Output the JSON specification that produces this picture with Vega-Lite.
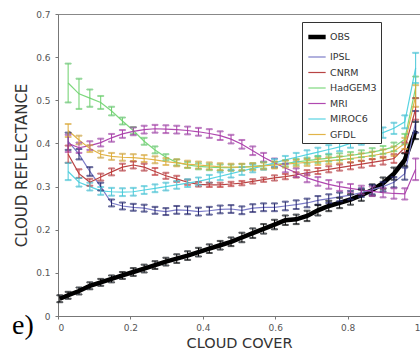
{
  "$schema": "https://vega.github.io/schema/vega-lite/v6.json",
  "autosize": "none",
  "width": 362,
  "height": 302,
  "padding": {"left": 58, "top": 14, "right": 0, "bottom": 44},
  "background": "white",
  "config": {
    "view": {"stroke": "#888888", "strokeWidth": 1},
    "font": "DejaVu Sans"
  },
  "title": {"text": "e)", "orient": "bottom", "anchor": "start", "frame": "group", "font": "Liberation Serif", "fontSize": 28, "fontWeight": "normal", "color": "#000000", "dx": -46, "offset": -38},
  "data": {"values": [
    {"m":"OBS","x":0.005,"y":0.040,"e":0.008},
    {"m":"OBS","x":0.028,"y":0.048,"e":0.008},
    {"m":"OBS","x":0.058,"y":0.058,"e":0.008},
    {"m":"OBS","x":0.088,"y":0.070,"e":0.008},
    {"m":"OBS","x":0.118,"y":0.078,"e":0.008},
    {"m":"OBS","x":0.148,"y":0.086,"e":0.008},
    {"m":"OBS","x":0.178,"y":0.094,"e":0.008},
    {"m":"OBS","x":0.208,"y":0.102,"e":0.009},
    {"m":"OBS","x":0.238,"y":0.110,"e":0.009},
    {"m":"OBS","x":0.268,"y":0.118,"e":0.009},
    {"m":"OBS","x":0.298,"y":0.126,"e":0.009},
    {"m":"OBS","x":0.328,"y":0.133,"e":0.010},
    {"m":"OBS","x":0.358,"y":0.140,"e":0.010},
    {"m":"OBS","x":0.388,"y":0.148,"e":0.010},
    {"m":"OBS","x":0.418,"y":0.156,"e":0.010},
    {"m":"OBS","x":0.448,"y":0.164,"e":0.010},
    {"m":"OBS","x":0.478,"y":0.172,"e":0.010},
    {"m":"OBS","x":0.508,"y":0.182,"e":0.011},
    {"m":"OBS","x":0.538,"y":0.192,"e":0.011},
    {"m":"OBS","x":0.568,"y":0.202,"e":0.011},
    {"m":"OBS","x":0.598,"y":0.212,"e":0.011},
    {"m":"OBS","x":0.628,"y":0.222,"e":0.011},
    {"m":"OBS","x":0.658,"y":0.224,"e":0.011},
    {"m":"OBS","x":0.688,"y":0.232,"e":0.012},
    {"m":"OBS","x":0.718,"y":0.245,"e":0.012},
    {"m":"OBS","x":0.748,"y":0.255,"e":0.012},
    {"m":"OBS","x":0.778,"y":0.262,"e":0.012},
    {"m":"OBS","x":0.808,"y":0.270,"e":0.012},
    {"m":"OBS","x":0.838,"y":0.280,"e":0.013},
    {"m":"OBS","x":0.868,"y":0.292,"e":0.013},
    {"m":"OBS","x":0.898,"y":0.308,"e":0.013},
    {"m":"OBS","x":0.928,"y":0.330,"e":0.014},
    {"m":"OBS","x":0.958,"y":0.362,"e":0.015},
    {"m":"OBS","x":0.988,"y":0.430,"e":0.020},

    {"m":"IPSL","x":0.028,"y":0.405,"e":0.02},
    {"m":"IPSL","x":0.058,"y":0.375,"e":0.012},
    {"m":"IPSL","x":0.088,"y":0.335,"e":0.010},
    {"m":"IPSL","x":0.118,"y":0.300,"e":0.009},
    {"m":"IPSL","x":0.148,"y":0.262,"e":0.008},
    {"m":"IPSL","x":0.178,"y":0.255,"e":0.008},
    {"m":"IPSL","x":0.208,"y":0.252,"e":0.008},
    {"m":"IPSL","x":0.238,"y":0.250,"e":0.008},
    {"m":"IPSL","x":0.268,"y":0.245,"e":0.008},
    {"m":"IPSL","x":0.298,"y":0.242,"e":0.008},
    {"m":"IPSL","x":0.328,"y":0.246,"e":0.009},
    {"m":"IPSL","x":0.358,"y":0.245,"e":0.009},
    {"m":"IPSL","x":0.388,"y":0.242,"e":0.009},
    {"m":"IPSL","x":0.418,"y":0.244,"e":0.009},
    {"m":"IPSL","x":0.448,"y":0.247,"e":0.009},
    {"m":"IPSL","x":0.478,"y":0.248,"e":0.009},
    {"m":"IPSL","x":0.508,"y":0.245,"e":0.009},
    {"m":"IPSL","x":0.538,"y":0.250,"e":0.009},
    {"m":"IPSL","x":0.568,"y":0.252,"e":0.009},
    {"m":"IPSL","x":0.598,"y":0.252,"e":0.009},
    {"m":"IPSL","x":0.628,"y":0.255,"e":0.010},
    {"m":"IPSL","x":0.658,"y":0.258,"e":0.010},
    {"m":"IPSL","x":0.688,"y":0.262,"e":0.010},
    {"m":"IPSL","x":0.718,"y":0.268,"e":0.010},
    {"m":"IPSL","x":0.748,"y":0.272,"e":0.010},
    {"m":"IPSL","x":0.778,"y":0.276,"e":0.010},
    {"m":"IPSL","x":0.808,"y":0.280,"e":0.010},
    {"m":"IPSL","x":0.838,"y":0.286,"e":0.010},
    {"m":"IPSL","x":0.868,"y":0.293,"e":0.011},
    {"m":"IPSL","x":0.898,"y":0.300,"e":0.011},
    {"m":"IPSL","x":0.928,"y":0.310,"e":0.012},
    {"m":"IPSL","x":0.958,"y":0.330,"e":0.014},
    {"m":"IPSL","x":0.988,"y":0.450,"e":0.025},

    {"m":"CNRM","x":0.028,"y":0.375,"e":0.02},
    {"m":"CNRM","x":0.058,"y":0.330,"e":0.010},
    {"m":"CNRM","x":0.088,"y":0.310,"e":0.008},
    {"m":"CNRM","x":0.118,"y":0.322,"e":0.008},
    {"m":"CNRM","x":0.148,"y":0.334,"e":0.008},
    {"m":"CNRM","x":0.178,"y":0.345,"e":0.008},
    {"m":"CNRM","x":0.208,"y":0.350,"e":0.008},
    {"m":"CNRM","x":0.238,"y":0.345,"e":0.008},
    {"m":"CNRM","x":0.268,"y":0.335,"e":0.008},
    {"m":"CNRM","x":0.298,"y":0.325,"e":0.007},
    {"m":"CNRM","x":0.328,"y":0.318,"e":0.007},
    {"m":"CNRM","x":0.358,"y":0.310,"e":0.006},
    {"m":"CNRM","x":0.388,"y":0.305,"e":0.005},
    {"m":"CNRM","x":0.418,"y":0.304,"e":0.005},
    {"m":"CNRM","x":0.448,"y":0.304,"e":0.005},
    {"m":"CNRM","x":0.478,"y":0.306,"e":0.005},
    {"m":"CNRM","x":0.508,"y":0.308,"e":0.005},
    {"m":"CNRM","x":0.538,"y":0.312,"e":0.005},
    {"m":"CNRM","x":0.568,"y":0.316,"e":0.005},
    {"m":"CNRM","x":0.598,"y":0.320,"e":0.006},
    {"m":"CNRM","x":0.628,"y":0.323,"e":0.006},
    {"m":"CNRM","x":0.658,"y":0.327,"e":0.006},
    {"m":"CNRM","x":0.688,"y":0.332,"e":0.006},
    {"m":"CNRM","x":0.718,"y":0.336,"e":0.007},
    {"m":"CNRM","x":0.748,"y":0.340,"e":0.007},
    {"m":"CNRM","x":0.778,"y":0.344,"e":0.007},
    {"m":"CNRM","x":0.808,"y":0.348,"e":0.008},
    {"m":"CNRM","x":0.838,"y":0.352,"e":0.008},
    {"m":"CNRM","x":0.868,"y":0.356,"e":0.008},
    {"m":"CNRM","x":0.898,"y":0.360,"e":0.009},
    {"m":"CNRM","x":0.928,"y":0.365,"e":0.010},
    {"m":"CNRM","x":0.958,"y":0.390,"e":0.012},
    {"m":"CNRM","x":0.988,"y":0.480,"e":0.025},

    {"m":"HadGEM3","x":0.028,"y":0.540,"e":0.045},
    {"m":"HadGEM3","x":0.058,"y":0.515,"e":0.035},
    {"m":"HadGEM3","x":0.088,"y":0.505,"e":0.020},
    {"m":"HadGEM3","x":0.118,"y":0.495,"e":0.015},
    {"m":"HadGEM3","x":0.148,"y":0.475,"e":0.010},
    {"m":"HadGEM3","x":0.178,"y":0.452,"e":0.008},
    {"m":"HadGEM3","x":0.208,"y":0.430,"e":0.008},
    {"m":"HadGEM3","x":0.238,"y":0.405,"e":0.008},
    {"m":"HadGEM3","x":0.268,"y":0.385,"e":0.008},
    {"m":"HadGEM3","x":0.298,"y":0.368,"e":0.007},
    {"m":"HadGEM3","x":0.328,"y":0.356,"e":0.007},
    {"m":"HadGEM3","x":0.358,"y":0.350,"e":0.007},
    {"m":"HadGEM3","x":0.388,"y":0.347,"e":0.007},
    {"m":"HadGEM3","x":0.418,"y":0.345,"e":0.007},
    {"m":"HadGEM3","x":0.448,"y":0.344,"e":0.007},
    {"m":"HadGEM3","x":0.478,"y":0.344,"e":0.007},
    {"m":"HadGEM3","x":0.508,"y":0.345,"e":0.007},
    {"m":"HadGEM3","x":0.538,"y":0.347,"e":0.007},
    {"m":"HadGEM3","x":0.568,"y":0.349,"e":0.007},
    {"m":"HadGEM3","x":0.598,"y":0.351,"e":0.007},
    {"m":"HadGEM3","x":0.628,"y":0.354,"e":0.007},
    {"m":"HadGEM3","x":0.658,"y":0.357,"e":0.007},
    {"m":"HadGEM3","x":0.688,"y":0.360,"e":0.007},
    {"m":"HadGEM3","x":0.718,"y":0.363,"e":0.008},
    {"m":"HadGEM3","x":0.748,"y":0.366,"e":0.008},
    {"m":"HadGEM3","x":0.778,"y":0.369,"e":0.008},
    {"m":"HadGEM3","x":0.808,"y":0.372,"e":0.008},
    {"m":"HadGEM3","x":0.838,"y":0.376,"e":0.008},
    {"m":"HadGEM3","x":0.868,"y":0.380,"e":0.009},
    {"m":"HadGEM3","x":0.898,"y":0.385,"e":0.009},
    {"m":"HadGEM3","x":0.928,"y":0.392,"e":0.010},
    {"m":"HadGEM3","x":0.958,"y":0.410,"e":0.012},
    {"m":"HadGEM3","x":0.988,"y":0.530,"e":0.025},

    {"m":"MRI","x":0.028,"y":0.400,"e":0.02},
    {"m":"MRI","x":0.058,"y":0.390,"e":0.012},
    {"m":"MRI","x":0.088,"y":0.395,"e":0.010},
    {"m":"MRI","x":0.118,"y":0.402,"e":0.009},
    {"m":"MRI","x":0.148,"y":0.413,"e":0.009},
    {"m":"MRI","x":0.178,"y":0.422,"e":0.009},
    {"m":"MRI","x":0.208,"y":0.428,"e":0.009},
    {"m":"MRI","x":0.238,"y":0.432,"e":0.009},
    {"m":"MRI","x":0.268,"y":0.434,"e":0.009},
    {"m":"MRI","x":0.298,"y":0.433,"e":0.009},
    {"m":"MRI","x":0.328,"y":0.432,"e":0.009},
    {"m":"MRI","x":0.358,"y":0.430,"e":0.009},
    {"m":"MRI","x":0.388,"y":0.427,"e":0.009},
    {"m":"MRI","x":0.418,"y":0.423,"e":0.010},
    {"m":"MRI","x":0.448,"y":0.418,"e":0.010},
    {"m":"MRI","x":0.478,"y":0.410,"e":0.010},
    {"m":"MRI","x":0.508,"y":0.398,"e":0.010},
    {"m":"MRI","x":0.538,"y":0.383,"e":0.010},
    {"m":"MRI","x":0.568,"y":0.368,"e":0.010},
    {"m":"MRI","x":0.598,"y":0.355,"e":0.010},
    {"m":"MRI","x":0.628,"y":0.343,"e":0.010},
    {"m":"MRI","x":0.658,"y":0.332,"e":0.010},
    {"m":"MRI","x":0.688,"y":0.320,"e":0.010},
    {"m":"MRI","x":0.718,"y":0.312,"e":0.010},
    {"m":"MRI","x":0.748,"y":0.305,"e":0.010},
    {"m":"MRI","x":0.778,"y":0.300,"e":0.010},
    {"m":"MRI","x":0.808,"y":0.296,"e":0.010},
    {"m":"MRI","x":0.838,"y":0.292,"e":0.010},
    {"m":"MRI","x":0.868,"y":0.289,"e":0.011},
    {"m":"MRI","x":0.898,"y":0.286,"e":0.011},
    {"m":"MRI","x":0.928,"y":0.284,"e":0.012},
    {"m":"MRI","x":0.958,"y":0.283,"e":0.013},
    {"m":"MRI","x":0.988,"y":0.340,"e":0.025},

    {"m":"MIROC6","x":0.028,"y":0.335,"e":0.02},
    {"m":"MIROC6","x":0.058,"y":0.310,"e":0.010},
    {"m":"MIROC6","x":0.088,"y":0.300,"e":0.009},
    {"m":"MIROC6","x":0.118,"y":0.290,"e":0.009},
    {"m":"MIROC6","x":0.148,"y":0.288,"e":0.009},
    {"m":"MIROC6","x":0.178,"y":0.287,"e":0.009},
    {"m":"MIROC6","x":0.208,"y":0.288,"e":0.009},
    {"m":"MIROC6","x":0.238,"y":0.292,"e":0.009},
    {"m":"MIROC6","x":0.268,"y":0.296,"e":0.009},
    {"m":"MIROC6","x":0.298,"y":0.300,"e":0.009},
    {"m":"MIROC6","x":0.328,"y":0.304,"e":0.009},
    {"m":"MIROC6","x":0.358,"y":0.308,"e":0.009},
    {"m":"MIROC6","x":0.388,"y":0.312,"e":0.009},
    {"m":"MIROC6","x":0.418,"y":0.318,"e":0.009},
    {"m":"MIROC6","x":0.448,"y":0.324,"e":0.009},
    {"m":"MIROC6","x":0.478,"y":0.330,"e":0.009},
    {"m":"MIROC6","x":0.508,"y":0.336,"e":0.009},
    {"m":"MIROC6","x":0.538,"y":0.342,"e":0.009},
    {"m":"MIROC6","x":0.568,"y":0.348,"e":0.009},
    {"m":"MIROC6","x":0.598,"y":0.355,"e":0.009},
    {"m":"MIROC6","x":0.628,"y":0.362,"e":0.009},
    {"m":"MIROC6","x":0.658,"y":0.368,"e":0.010},
    {"m":"MIROC6","x":0.688,"y":0.374,"e":0.010},
    {"m":"MIROC6","x":0.718,"y":0.380,"e":0.010},
    {"m":"MIROC6","x":0.748,"y":0.386,"e":0.010},
    {"m":"MIROC6","x":0.778,"y":0.392,"e":0.010},
    {"m":"MIROC6","x":0.808,"y":0.400,"e":0.010},
    {"m":"MIROC6","x":0.838,"y":0.408,"e":0.011},
    {"m":"MIROC6","x":0.868,"y":0.416,"e":0.011},
    {"m":"MIROC6","x":0.898,"y":0.425,"e":0.012},
    {"m":"MIROC6","x":0.928,"y":0.435,"e":0.013},
    {"m":"MIROC6","x":0.958,"y":0.450,"e":0.015},
    {"m":"MIROC6","x":0.988,"y":0.575,"e":0.035},

    {"m":"GFDL","x":0.028,"y":0.430,"e":0.015},
    {"m":"GFDL","x":0.058,"y":0.408,"e":0.010},
    {"m":"GFDL","x":0.088,"y":0.388,"e":0.008},
    {"m":"GFDL","x":0.118,"y":0.375,"e":0.008},
    {"m":"GFDL","x":0.148,"y":0.370,"e":0.008},
    {"m":"GFDL","x":0.178,"y":0.368,"e":0.008},
    {"m":"GFDL","x":0.208,"y":0.367,"e":0.008},
    {"m":"GFDL","x":0.238,"y":0.365,"e":0.008},
    {"m":"GFDL","x":0.268,"y":0.362,"e":0.008},
    {"m":"GFDL","x":0.298,"y":0.358,"e":0.008},
    {"m":"GFDL","x":0.328,"y":0.355,"e":0.008},
    {"m":"GFDL","x":0.358,"y":0.352,"e":0.008},
    {"m":"GFDL","x":0.388,"y":0.350,"e":0.008},
    {"m":"GFDL","x":0.418,"y":0.348,"e":0.008},
    {"m":"GFDL","x":0.448,"y":0.346,"e":0.008},
    {"m":"GFDL","x":0.478,"y":0.345,"e":0.008},
    {"m":"GFDL","x":0.508,"y":0.345,"e":0.008},
    {"m":"GFDL","x":0.538,"y":0.346,"e":0.008},
    {"m":"GFDL","x":0.568,"y":0.348,"e":0.008},
    {"m":"GFDL","x":0.598,"y":0.350,"e":0.008},
    {"m":"GFDL","x":0.628,"y":0.352,"e":0.008},
    {"m":"GFDL","x":0.658,"y":0.354,"e":0.008},
    {"m":"GFDL","x":0.688,"y":0.356,"e":0.008},
    {"m":"GFDL","x":0.718,"y":0.358,"e":0.008},
    {"m":"GFDL","x":0.748,"y":0.360,"e":0.008},
    {"m":"GFDL","x":0.778,"y":0.362,"e":0.008},
    {"m":"GFDL","x":0.808,"y":0.365,"e":0.009},
    {"m":"GFDL","x":0.838,"y":0.368,"e":0.009},
    {"m":"GFDL","x":0.868,"y":0.372,"e":0.009},
    {"m":"GFDL","x":0.898,"y":0.376,"e":0.010},
    {"m":"GFDL","x":0.928,"y":0.382,"e":0.011},
    {"m":"GFDL","x":0.958,"y":0.400,"e":0.013},
    {"m":"GFDL","x":0.988,"y":0.510,"e":0.025}
  ]},
  "layer": [
    {
      "mark": {"type": "line", "clip": true},
      "encoding": {
        "x": {"field": "x", "type": "quantitative", "title": "CLOUD COVER",
          "scale": {"domain": [0, 1]},
          "axis": {"values": [0,0.2,0.4,0.6,0.8,1], "format": "~g", "grid": false, "domainColor": "#777777", "tickColor": "#777777", "tickSize": 3, "labelColor": "#555555", "labelFontSize": 9, "labelPadding": 4, "titleFontSize": 14.5, "titleFontWeight": "normal", "titleColor": "#333333", "titlePadding": 4}},
        "y": {"field": "y", "type": "quantitative", "title": "CLOUD REFLECTANCE",
          "scale": {"domain": [0, 0.7]},
          "axis": {"values": [0,0.1,0.2,0.3,0.4,0.5,0.6,0.7], "format": "~g", "grid": false, "domainColor": "#777777", "tickColor": "#777777", "tickSize": 3, "labelColor": "#555555", "labelFontSize": 9, "labelPadding": 5, "titleFontSize": 15, "titleFontWeight": "normal", "titleColor": "#333333", "titlePadding": 6}},
        "color": {"field": "m", "type": "nominal", "title": null,
          "scale": {"domain": ["OBS","IPSL","CNRM","HadGEM3","MRI","MIROC6","GFDL"],
                    "range": ["#000000","#7c7cc8","#b84444","#7ed87e","#b048b0","#58d4e2","#e2b448"]},
          "legend": {"orient": "none", "legendX": 244, "legendY": 8, "symbolType": "stroke", "symbolSize": 300, "labelFontSize": 9.5, "labelColor": "#333333", "rowPadding": 1.5, "padding": 4, "strokeColor": "#333333", "fillColor": "white", "symbolOffset": 0, "labelOffset": 2}},
        "strokeWidth": {"field": "m", "type": "nominal", "title": null,
          "scale": {"type": "ordinal", "domain": ["OBS","IPSL","CNRM","HadGEM3","MRI","MIROC6","GFDL"], "range": [4.5,1.2,1.2,1.2,1.2,1.2,1.2]},
          "legend": {"orient": "none", "legendX": 244, "legendY": 8, "symbolType": "stroke", "symbolSize": 300, "labelFontSize": 9.5, "labelColor": "#333333", "rowPadding": 1.5, "padding": 4, "strokeColor": "#333333", "fillColor": "white", "symbolOffset": 0, "labelOffset": 2}}
      }
    },
    {
      "mark": {"type": "errorbar", "ticks": {"size": 6}, "thickness": 1},
      "encoding": {
        "x": {"field": "x", "type": "quantitative", "title": "CLOUD COVER"},
        "y": {"field": "y", "type": "quantitative", "title": "CLOUD REFLECTANCE"},
        "yError": {"field": "e"},
        "stroke": {"field": "m", "type": "nominal", "legend": null,
          "scale": {"domain": ["OBS","IPSL","CNRM","HadGEM3","MRI","MIROC6","GFDL"],
                    "range": ["#000000","#22226a","#c43a3a","#6cd06c","#a840a8","#48c8d8","#dcaa38"]}}
      }
    }
  ]
}
